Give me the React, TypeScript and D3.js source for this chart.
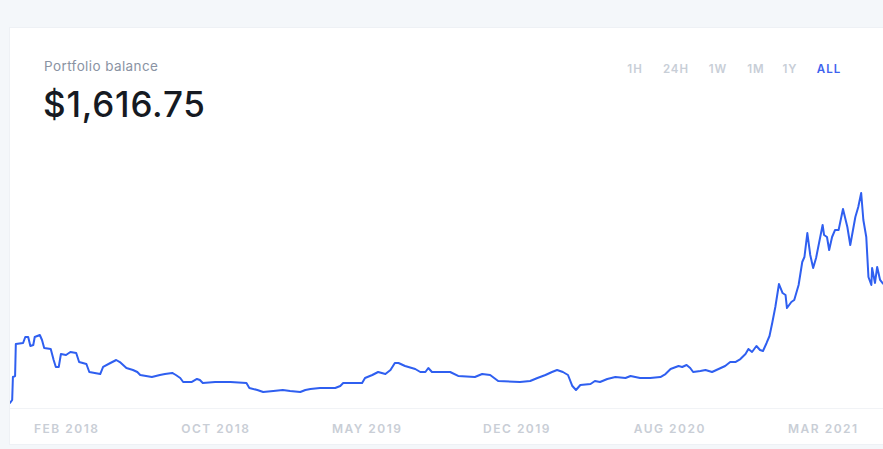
import React from "react";
import * as d3 from "d3";

const W = 883;
const H = 449;

// day index since start (domain 0..1200)
const days = [0,3,4,7,8,18,21,25,28,32,34,41,44,47,56,60,63,67,70,77,83,91,95,105,109,124,128,138,146,151,160,169,175,179,195,206,213,223,228,234,238,250,257,261,265,282,303,325,329,340,348,362,375,385,399,406,413,426,447,454,458,484,488,498,506,516,523,529,534,543,557,564,571,575,580,605,616,639,649,660,671,701,715,725,736,745,752,760,767,773,778,784,798,804,811,821,832,846,853,866,880,894,901,908,919,924,930,935,939,949,956,965,974,983,990,997,1004,1011,1015,1020,1026,1031,1035,1040,1044,1048,1052,1057,1062,1066,1068,1074,1078,1084,1089,1092,1096,1100,1104,1108,1117,1119,1123,1126,1130,1134,1139,1145,1151,1155,1162,1166,1170,1173,1177,1180,1184,1185,1189,1192,1196,1200];

// portfolio balance in USD
const balance = [27,67,373,387,813,827,907,907,787,800,907,933,867,760,747,600,507,507,680,667,707,693,573,547,440,413,507,560,600,573,493,467,440,400,373,400,413,427,400,360,307,307,347,333,293,307,307,293,227,200,173,187,200,187,173,200,213,227,227,253,293,293,360,400,440,413,467,560,560,520,480,440,440,493,440,440,387,373,413,400,320,307,320,360,400,440,467,440,400,253,200,267,280,320,307,347,373,360,387,360,360,373,413,480,520,507,533,493,440,453,467,440,480,520,573,573,613,680,747,707,787,733,720,827,920,1107,1307,1613,1493,1467,1293,1373,1400,1600,1907,1973,2293,2000,1827,1960,2400,2267,2240,2067,2240,2333,2333,2613,2373,2133,2507,2640,2827,2467,2240,1707,1600,1827,1627,1840,1667,1617];

const tickDays = [78, 283, 491, 697, 907, 1118];
const tickLabels = ["FEB 2018", "OCT 2018", "MAY 2019", "DEC 2019", "AUG 2020", "MAR 2021"];

const ranges = ["1H", "24H", "1W", "1M", "1Y", "ALL"];
const rangeX = [635, 676, 718, 756, 790, 829];

const title = "Portfolio balance";
const total = "$1,616.75";

export default function App() {
  const x = d3.scaleLinear().domain([0, 1200]).range([10, 883]);
  const y = d3.scaleLinear().domain([0, 3000]).range([405, 180]);
  const pts: [number, number][] = days.map((d, i) => [d, balance[i]]);
  const line = d3
    .line<[number, number]>()
    .x((d) => x(d[0]))
    .y((d) => y(d[1]))
    .curve(d3.curveLinear);

  const font = "Inter, 'Noto Sans', 'DejaVu Sans', sans-serif";

  return (
    <svg
      width={W}
      height={H}
      style={{ position: "absolute", left: 0, top: 0, display: "block" }}
      fontFamily={font}
    >
      <rect x={0} y={0} width={W} height={H} fill="#f4f7fa" />
      <rect x={9.5} y={27.5} width={W} height={417} fill="#ffffff" stroke="#eef1f5" />
      <line x1={10} x2={W} y1={408.5} y2={408.5} stroke="#f1f3f6" strokeWidth={1} />

      <text x={44} y={71} fontSize={13.5} fill="#8a93a3" fontWeight={400} letterSpacing={0.4}>
        {title}
      </text>
      <text x={43} y={117} fontSize={35} fill="#161a22" fontWeight={500} letterSpacing={0.8}>
        {total}
      </text>

      {ranges.map((r, i) => (
        <text
          key={r}
          x={rangeX[i]}
          y={73}
          textAnchor="middle"
          fontSize={11.5}
          fontWeight={600}
          letterSpacing={1}
          fill={r === "ALL" ? "#3e63ee" : "#c8ced7"}
        >
          {r}
        </text>
      ))}

      <defs>
        <clipPath id="plot">
          <rect x={10} y={150} width={W - 10} height={260} />
        </clipPath>
      </defs>
      <path
        d={line(pts) || ""}
        fill="none"
        stroke="#2f5ff0"
        strokeWidth={2}
        strokeLinejoin="round"
        strokeLinecap="round"
        clipPath="url(#plot)"
      />

      {tickDays.map((t, i) => (
        <text
          key={tickLabels[i]}
          x={x(t)}
          y={433}
          textAnchor="middle"
          fontSize={12}
          fontWeight={600}
          letterSpacing={1.5}
          fill="#c9ced6"
        >
          {tickLabels[i]}
        </text>
      ))}
    </svg>
  );
}
